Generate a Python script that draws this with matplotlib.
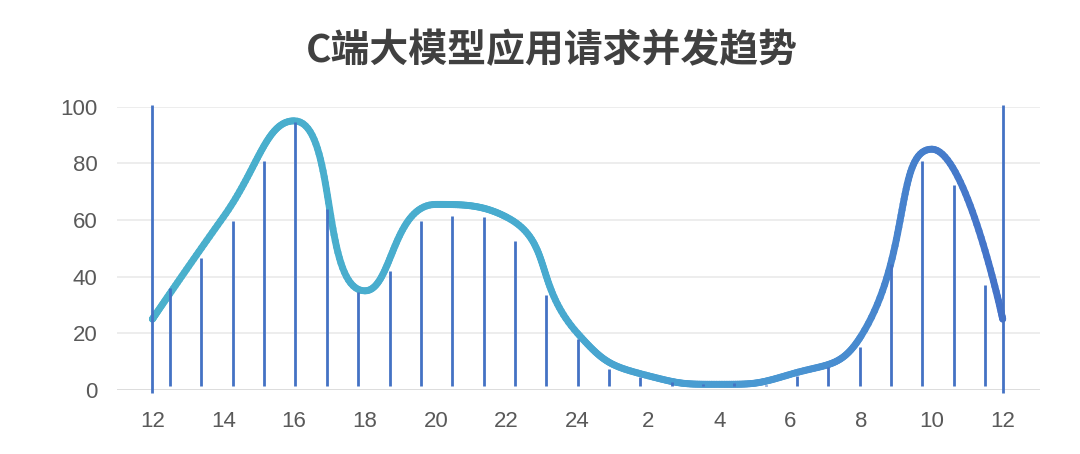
import numpy as np
import matplotlib
matplotlib.use("Agg")
from matplotlib import pyplot as plt
from matplotlib.collections import LineCollection
from matplotlib.colors import LinearSegmentedColormap

# data
title = "C端大模型应用请求并发趋势"
hour_labels = ["12", "14", "16", "18", "20", "22", "24", "2", "4", "6", "8", "10", "12"]
curve_values = [25, 61, 95, 35, 65.5, 61, 20, 5, 2, 5.5, 19, 85, 25]
bar_values = [36, 46.5, 59.5, 81, 94.5, 64, 34.5, 42, 59.5, 61.5, 61, 52.5, 33.5,
              18, 7.5, 4.5, 2.8, 2.2, 2.3, 1.8, 5, 8, 15, 44.5, 81, 72.5, 37]
y_ticks = [0, 20, 40, 60, 80, 100]

BAR_COLOR = "#4472C4"
LABEL_COLOR = "#595959"


def smooth_curve(pts, smooth=0.5, n=40):
    # bezier smoothing with clamped control points, done in pixel space
    out = [pts[0]]
    cp0 = pts[0].copy()
    for k in range(1, len(pts)):
        prev, p = pts[k - 1], pts[k]
        if k == len(pts) - 1:
            cp1 = p.copy()
            next_cp0 = p.copy()
        else:
            nxt = pts[k + 1]
            v = nxt - prev
            l0 = np.hypot(*(p - prev))
            l1 = np.hypot(*(nxt - p))
            r = l1 / (l0 + l1)
            ncp0 = p + v * smooth * r
            ncp0 = np.minimum(ncp0, np.maximum(nxt, p))
            ncp0 = np.maximum(ncp0, np.minimum(nxt, p))
            v = ncp0 - p
            cp1 = p - v * l0 / l1
            cp1 = np.minimum(cp1, np.maximum(prev, p))
            cp1 = np.maximum(cp1, np.minimum(prev, p))
            v = p - cp1
            next_cp0 = p + v * l1 / l0
        t = np.linspace(0, 1, n)[1:, None]
        seg = ((1 - t) ** 3 * prev + 3 * (1 - t) ** 2 * t * cp0
               + 3 * (1 - t) * t ** 2 * cp1 + t ** 3 * p)
        out.extend(seg)
        cp0 = next_cp0
    return np.array(out)


fig = plt.figure(figsize=(10.8, 4.54), dpi=100)
ax = fig.add_axes([0.1083, 0.141, 0.8546, 0.624])

hours = np.arange(len(hour_labels)) * 2
ax.set_xlim(-1.0, 25.05)
ax.set_ylim(0, 100)

# gridlines
for yv in y_ticks:
    ax.axhline(yv, color="#dddddd" if yv == 0 else "#e8e8e8",
               lw=1.4 if yv == 0 else 1.1, zorder=0)

# smoothed curve with horizontal colour gradient
disp = ax.transData.transform(np.column_stack([hours, curve_values]))
curve = ax.transData.inverted().transform(smooth_curve(disp))
segs = np.stack([curve[:-1], curve[1:]], axis=1)
cmap = LinearSegmentedColormap.from_list(
    "grad", [(0, "#4AB0CC"), (0.45, "#48ABCF"), (0.75, "#4A95D2"), (1, "#4472C8")])
frac = (segs[:, 0, 0] - hours[0]) / (hours[-1] - hours[0])
lc = LineCollection(segs, colors=cmap(frac), linewidths=5, capstyle="round",
                    joinstyle="round", zorder=3)
ax.add_collection(lc)

# thin bars
bar_x = np.linspace(0.5, 23.5, len(bar_values))
ax.vlines(bar_x, 1.5, bar_values, color=BAR_COLOR, lw=2, zorder=4)
ax.vlines([hours[0], hours[-1]], -1, 100.7, color=BAR_COLOR, lw=2, zorder=4,
          clip_on=False)

ax.set_xticks(hours)
ax.set_xticklabels(hour_labels)
ax.set_yticks(y_ticks)
ax.tick_params(length=0, labelsize=16, labelcolor=LABEL_COLOR)
ax.tick_params(axis="x", pad=15)
ax.tick_params(axis="y", pad=14)
for lab in ax.get_xticklabels() + ax.get_yticklabels():
    lab.set_family(["Liberation Sans", "DejaVu Sans"])
for s in ax.spines.values():
    s.set_visible(False)

fig.text(0.511, 0.889, title, ha="center", va="center", fontsize=28,
         fontweight="bold", color="#404040",
         family=["Noto Sans CJK SC", "DejaVu Sans"])

plt.savefig("out.png", dpi=100)
plt.close()
